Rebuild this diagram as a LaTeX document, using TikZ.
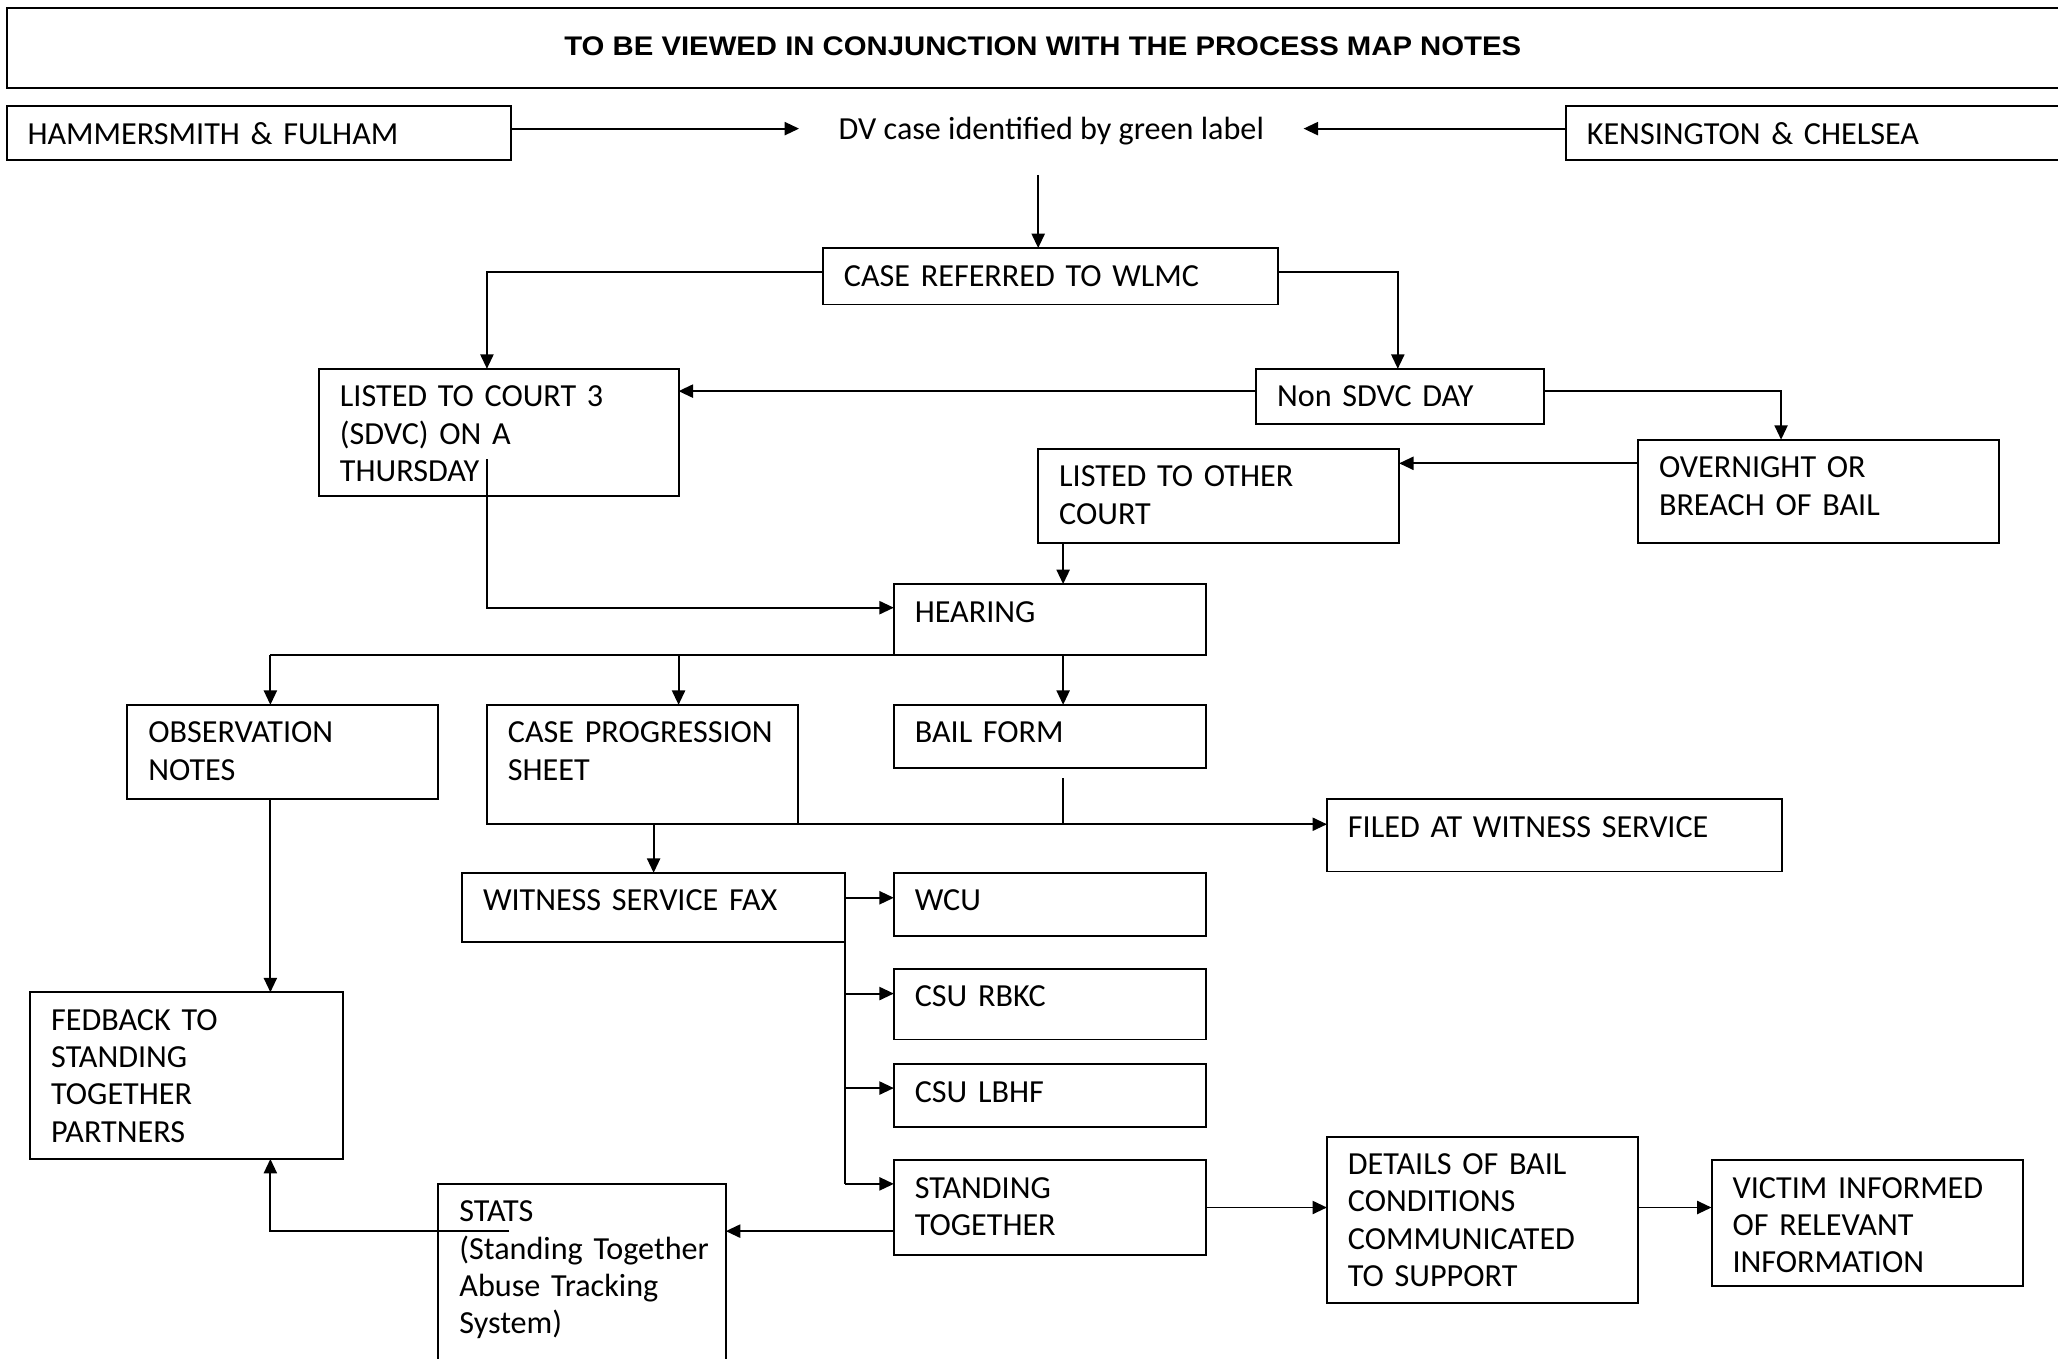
\documentclass[tikz,border=0pt]{standalone}
\usepackage{fontspec}
\usepackage{graphicx}
\setmainfont{Carlito}
\newfontfamily\titlefont{Liberation Sans}
\usetikzlibrary{arrows.meta,calc}
\tikzset{
  box/.style={draw, line width=1.5pt, rectangle, inner sep=0pt, outer sep=0pt},
  txt/.style={inner sep=0pt, outer sep=0pt, align=left, text width=330pt,
    font=\fontsize{24.5}{28.4}\selectfont},
  arr/.style={line width=1.5pt, -{Triangle[length=11pt,width=10pt]}},
  ln/.style={line width=1.5pt},
}
\newcommand\bx[6]{%
  \node[box, minimum width={#4-#2}, minimum height={#5-#3}, anchor=north west] (#1) at (#2,#3) {};
  \node[txt, anchor=base west] (#1t) at (#2+16,#3+29) {#6};}
\begin{document}
\begin{tikzpicture}[x=1pt,y=-1pt]
\useasboundingbox (0,0) rectangle (1568,1035);
% title
\node[box, minimum width=1620, minimum height=61, anchor=north west] (title) at (5,6) {};
\node[inner sep=0pt] (titlet) at (794.5,35) {\resizebox{729pt}{\height}{\titlefont\bfseries\fontsize{20.5}{24}\selectfont TO BE VIEWED IN CONJUNCTION WITH THE PROCESS MAP NOTES}};
% boxes
\bx{hf}{5}{81}{389}{122}{HAMMERSMITH \& FULHAM}
\bx{kc}{1193}{81}{1620}{122}{KENSINGTON \& CHELSEA}
\node[inner sep=0pt, minimum width=384, minimum height=66, font=\fontsize{24.5}{28.4}\selectfont] (dv) at (801,100) {DV case identified by green label};
\bx{case}{627}{189}{974}{232}{CASE REFERRED TO WLMC}
\bx{l3}{243}{281}{517}{378}{LISTED TO COURT 3\\(SDVC) ON A\\THURSDAY}
\bx{non}{957}{281}{1176}{323}{Non SDVC DAY}
\bx{over}{1248}{335}{1523}{414}{OVERNIGHT OR\\BREACH OF BAIL}
\bx{other}{791}{342}{1066}{414}{LISTED TO OTHER\\COURT}
\bx{hear}{681}{445}{919}{499}{HEARING}
\bx{obs}{97}{537}{334}{609}{OBSERVATION\\NOTES}
\bx{cps}{371}{537}{608}{628}{CASE PROGRESSION\\SHEET}
\bx{bail}{681}{537}{919}{585}{BAIL FORM}
\bx{filed}{1011}{609}{1358}{664}{FILED AT WITNESS SERVICE}
\bx{wsf}{352}{665}{644}{718}{WITNESS SERVICE FAX}
\bx{wcu}{681}{665}{919}{713}{WCU}
\bx{rbkc}{681}{738}{919}{792}{CSU RBKC}
\bx{lbhf}{681}{811}{919}{859}{CSU LBHF}
\bx{st}{681}{884}{919}{956}{STANDING\\TOGETHER}
\bx{det}{1011}{866}{1248}{993}{DETAILS OF BAIL\\CONDITIONS\\COMMUNICATED\\TO SUPPORT}
\bx{vic}{1304}{884}{1541}{980}{VICTIM INFORMED\\OF RELEVANT\\INFORMATION}
\bx{stats}{334}{902}{553}{1070}{STATS\\(Standing Together\\Abuse Tracking\\System)}
\bx{fb}{23}{756}{261}{883}{FEDBACK TO\\STANDING\\TOGETHER\\PARTNERS}
% free ends
\coordinate (l3out) at (371,350);
\coordinate (bailout) at (810,593);
\coordinate (statsout) at (388,938);
% connectors
\draw[arr] (hf.east |- 0,98) -- (dv.west |- 0,98);
\draw[arr] (kc.west |- 0,98) -- (dv.east |- 0,98);
\draw[arr] (791,0 |- dv.south) -- (791,0 |- case.north);
\draw[arr] (case.west |- 0,207) -| (371,0 |- l3.north);
\draw[arr] (case.east |- 0,207) -| (1065,0 |- non.north);
\draw[arr] (non.west |- 0,298) -- (l3.east |- 0,298);
\draw[arr] (non.east |- 0,298) -| (1357,0 |- over.north);
\draw[arr] (over.west |- 0,353) -- (other.east |- 0,353);
\draw[arr] (l3out) |- (hear.west |- 0,463);
\draw[arr] (810,0 |- other.south) -- (810,0 |- hear.north);
\draw[ln] (hear.south west) -- (206,0 |- hear.south);
\draw[arr] (206,0 |- hear.south) -- (206,0 |- obs.north);
\draw[arr] (517,0 |- hear.south) -- (517,0 |- cps.north);
\draw[arr] (810,0 |- hear.south) -- (810,0 |- bail.north);
\draw[ln] (bailout) -- (810,0 |- cps.south);
\draw[arr] (cps.south west) -- (filed.west |- cps.south);
\draw[arr] (498,0 |- cps.south) -- (498,0 |- wsf.north);
\draw[arr] (wsf.east |- 0,684) -- (wcu.west |- 0,684);
\draw[ln] (wsf.south east) -- (644,0 |- st.north west) -- ++(0,18);
\draw[arr] (644,757) -- (rbkc.west |- 0,757);
\draw[arr] (644,829) -- (lbhf.west |- 0,829);
\draw[arr] (644,902) -- (st.west |- 0,902);
\draw[arr] (st.west |- 0,938) -- (stats.east |- 0,938);
\draw[arr] (st.east |- 0,920) -- (det.west |- 0,920);
\draw[arr] (det.east |- 0,920) -- (vic.west |- 0,920);
\draw[arr] (statsout) -| (206,0 |- fb.south);
\draw[arr] (206,0 |- obs.south) -- (206,0 |- fb.north);
\end{tikzpicture}
\end{document}
